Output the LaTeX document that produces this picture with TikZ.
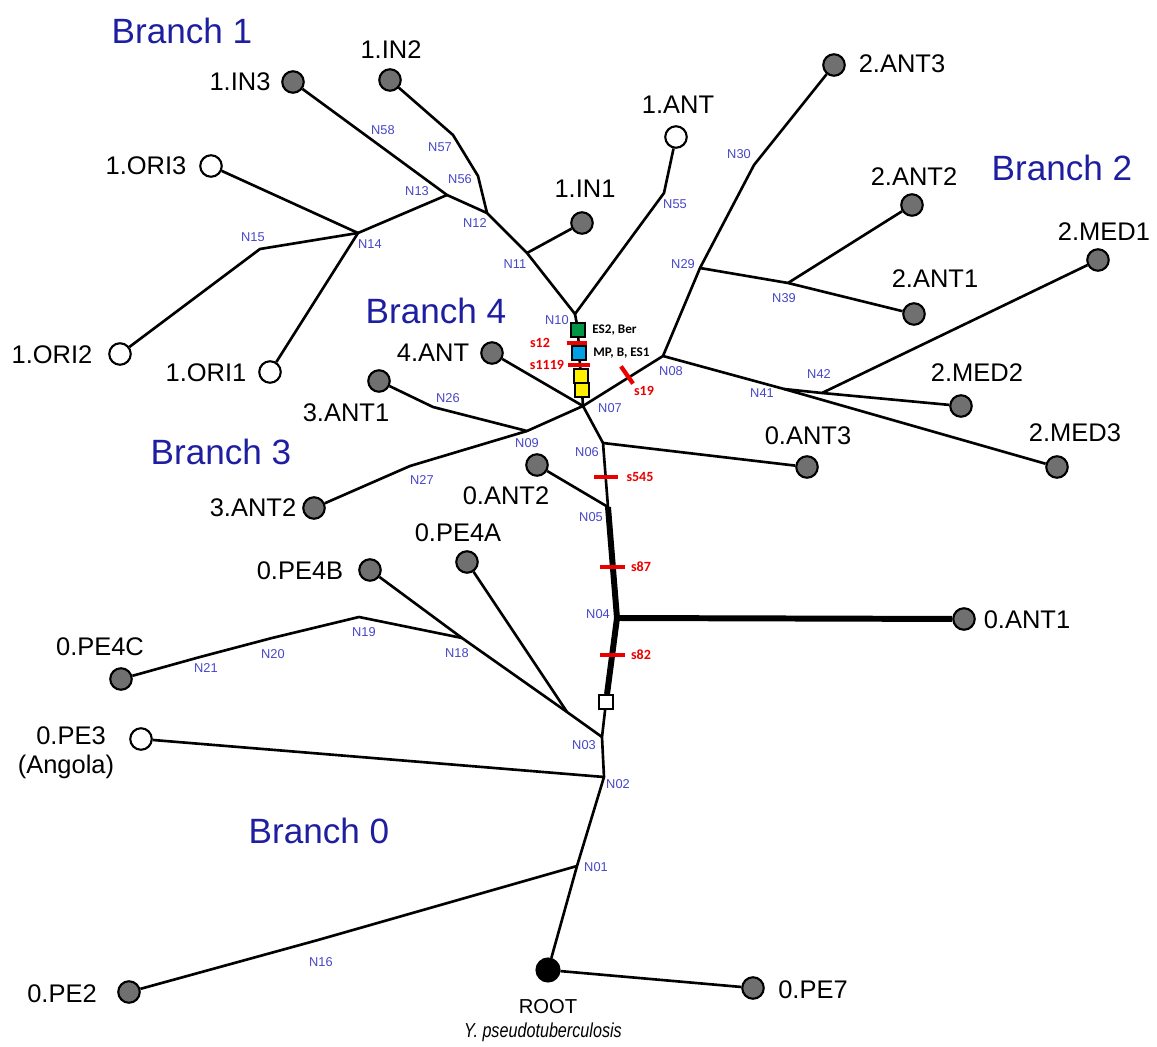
\documentclass[tikz,border=0pt]{standalone}
\usepackage{fontspec}
\setmainfont{Liberation Sans}
\newfontfamily\calib{Carlito}
\usetikzlibrary{backgrounds}
\definecolor{leafgray}{RGB}{112,112,112}
\definecolor{nblue}{RGB}{70,70,200}
\definecolor{bblue}{RGB}{30,30,160}
\definecolor{sred}{RGB}{235,0,0}
\definecolor{sqgreen}{RGB}{0,150,70}
\definecolor{sqblue}{RGB}{0,160,230}
\definecolor{sqyellow}{RGB}{255,240,0}
\tikzset{
  leaf/.style={circle, draw=black, line width=1.2pt, fill=leafgray, minimum size=0.43cm, inner sep=0pt},
  openleaf/.style={leaf, fill=white},
  rootnode/.style={leaf, fill=black, minimum size=0.46cm},
  lbl/.style={font=\fontsize{14.5}{17}\selectfont, inner sep=0pt},
  smalllbl/.style={font=\fontsize{11.5}{13}\selectfont, inner sep=0pt},
  nlbl/.style={font=\fontsize{7.3}{8}\selectfont, text=nblue, inner sep=0pt},
  brlbl/.style={font=\fontsize{20}{24}\selectfont, text=bblue, inner sep=0pt},
  slbl/.style={font=\calib\bfseries\fontsize{8}{9}\selectfont, text=sred, inner sep=0pt},
  klbl/.style={font=\calib\bfseries\fontsize{7.5}{9}\selectfont, text=black, inner sep=0pt},
  edge/.style={line width=1.5pt, line join=round},
  thickedge/.style={line width=3.4pt, line join=round},
  sq/.style={rectangle, draw=black, line width=1.4pt, minimum size=0.27cm, inner sep=0pt},
  redbar/.style={rectangle, fill=sred, minimum height=0.085cm, inner sep=0pt},
}
\begin{document}
\begin{tikzpicture}[x=0.02cm,y=-0.02cm]
\useasboundingbox (0,0) rectangle (1157,1047);
% internal junctions
\coordinate (N01) at (577,866);
\coordinate (N02) at (604,777);
\coordinate (N03) at (602,737);
\coordinate (J1)  at (567,712);
\coordinate (N04) at (617,618);
\coordinate (N05) at (608,507);
\coordinate (N06) at (603,443);
\coordinate (N07) at (583,406);
\coordinate (N08) at (663,356);
\coordinate (N09) at (527,431);
\coordinate (N10) at (575,314);
\coordinate (N11) at (527,253);
\coordinate (N12) at (487,213);
\coordinate (N13) at (447,195);
\coordinate (N14) at (358,233);
\coordinate (N15) at (260,249);
\coordinate (N16) at (318,940);
\coordinate (N18) at (462,638);
\coordinate (N19) at (359,617);
\coordinate (N20) at (272,638);
\coordinate (N21) at (200,657);
\coordinate (N26) at (433,407);
\coordinate (N27) at (410,466);
\coordinate (N29) at (700,268);
\coordinate (N30) at (754,165);
\coordinate (N39) at (788,283);
\coordinate (N41) at (784,389);
\coordinate (N42) at (822,393);
\coordinate (N55) at (664,193);
\coordinate (N56) at (478,176);
\coordinate (N57) at (453,135);
\coordinate (N58) at (383,148);
% leaves
\node[leaf] (IN3) at (293,82) {};
\node[leaf] (IN2) at (390,80) {};
\node[openleaf] (ORI3) at (211,166) {};
\node[openleaf] (ORI2) at (120,354) {};
\node[openleaf] (ORI1) at (270,372) {};
\node[leaf] (IN1) at (582,223) {};
\node[openleaf] (ANTone) at (676,137) {};
\node[leaf] (TANT3) at (834,65) {};
\node[leaf] (TANT2) at (912,205) {};
\node[leaf] (TANT1) at (914,314) {};
\node[leaf] (MED1) at (1098,260) {};
\node[leaf] (MED2) at (961,406) {};
\node[leaf] (MED3) at (1057,467) {};
\node[leaf] (ZANT3) at (807,467) {};
\node[leaf] (FANT) at (492,353) {};
\node[leaf] (HANT1) at (379,381) {};
\node[leaf] (HANT2) at (314,508) {};
\node[leaf] (ZANT2) at (537,465) {};
\node[leaf] (PE4A) at (467,562) {};
\node[leaf] (PE4B) at (370,570) {};
\node[leaf] (PE4C) at (121,679) {};
\node[openleaf] (PE3) at (141,739) {};
\node[leaf] (ZANT1) at (964,619) {};
\node[leaf] (PE2) at (129,992) {};
\node[leaf] (PE7) at (753,988) {};
\node[rootnode] (ROOT) at (548,970) {};
% squares
\node[sq, fill=sqgreen] (sqG) at (578,330) {};
\node[sq, fill=sqblue] (sqB) at (579,353) {};
\node[sq, fill=sqyellow] (sqY1) at (581,376) {};
\node[sq, fill=sqyellow] (sqY2) at (582,390) {};
\node[sq, fill=white] (sqW) at (606,702) {};
% red bars
\node[redbar, minimum width=0.4cm] (b12) at (577,343) {};
\node[redbar, minimum width=0.44cm] (b1119) at (579,365) {};
\node[redbar, minimum width=0.48cm] (b545) at (606,477) {};
\node[redbar, minimum width=0.5cm] (b87) at (612,567) {};
\node[redbar, minimum width=0.5cm] (b82) at (612,655) {};
\node[redbar, minimum width=0.42cm, rotate=-55] (b19) at (627,375) {};
% edges
\begin{pgfonlayer}{background}
\draw[edge] (IN3) -- (N58) -- (N13) -- (N12);
\draw[edge] (IN2) -- (N57) -- (N56) -- (N12);
\draw[edge] (ORI3) -- (N14);
\draw[edge] (ORI2) -- (N15) -- (N14);
\draw[edge] (ORI1) -- (N14);
\draw[edge] (N14) -- (N13);
\draw[edge] (N12) -- (N11) -- (N10);
\draw[edge] (N11) -- (IN1);
\draw[edge] (N10) -- (N55) -- (ANTone);
\draw[edge] (N10) -- (sqG) -- (sqB) -- (sqY1) -- (sqY2) -- (N07);
\draw[edge] (N07) -- (N08) -- (N29) -- (N30) -- (TANT3);
\draw[edge] (N29) -- (N39) -- (TANT1);
\draw[edge] (N39) -- (TANT2);
\draw[edge] (N08) -- (N41) -- (MED3);
\draw[edge] (N41) -- (N42) -- (MED2);
\draw[edge] (N42) -- (MED1);
\draw[edge] (N07) -- (FANT);
\draw[edge] (N07) -- (N09) -- (N26) -- (HANT1);
\draw[edge] (N09) -- (N27) -- (HANT2);
\draw[edge] (N07) -- (N06) -- (N05);
\draw[edge] (N06) -- (ZANT3);
\draw[edge] (ZANT2) -- (N05);
\draw[thickedge] (N05) -- (N04) -- (sqW);
\draw[thickedge] (N04) -- (ZANT1);
\draw[edge] (sqW) -- (N03) -- (N02) -- (N01) -- (ROOT) -- (PE7);
\draw[edge] (N03) -- (J1) -- (N18) -- (PE4B);
\draw[edge] (J1) -- (PE4A);
\draw[edge] (N18) -- (N19) -- (N20) -- (N21) -- (PE4C);
\draw[edge] (PE3) -- (N02);
\draw[edge] (PE2) -- (N16) -- (N01);
\end{pgfonlayer}
% leaf labels
\node[lbl] (tIN3) at (240,82) {1.IN3};
\node[lbl] (tIN2) at (391,50) {1.IN2};
\node[lbl] (tORI3) at (146,166) {1.ORI3};
\node[lbl] (tORI2) at (52,355) {1.ORI2};
\node[lbl] (tORI1) at (206,373) {1.ORI1};
\node[lbl] (tIN1) at (585,189) {1.IN1};
\node[lbl] (tANTone) at (678,105) {1.ANT};
\node[lbl] (tTANT3) at (902,64) {2.ANT3};
\node[lbl] (tTANT2) at (914,177) {2.ANT2};
\node[lbl] (tTANT1) at (935,279) {2.ANT1};
\node[lbl] (tMED1) at (1104,232) {2.MED1};
\node[lbl] (tMED2) at (977,373) {2.MED2};
\node[lbl] (tMED3) at (1075,433) {2.MED3};
\node[lbl] (tZANT3) at (808,436) {0.ANT3};
\node[lbl] (tFANT) at (433,353) {4.ANT};
\node[lbl] (tHANT1) at (346,413) {3.ANT1};
\node[lbl] (tHANT2) at (253,508) {3.ANT2};
\node[lbl] (tZANT2) at (506,496) {0.ANT2};
\node[lbl] (tPE4A) at (458,533) {0.PE4A};
\node[lbl] (tPE4B) at (300,571) {0.PE4B};
\node[lbl] (tPE4C) at (100,647) {0.PE4C};
\node[lbl] (tPE3) at (71,736) {0.PE3};
\node[lbl] (tAng) at (66,767) {(Angola)};
\node[lbl] (tZANT1) at (1027,620) {0.ANT1};
\node[lbl] (tPE2) at (62,994) {0.PE2};
\node[lbl] (tPE7) at (813,990) {0.PE7};
\node[smalllbl] (tROOT) at (548,1007) {ROOT};
\node[smalllbl, font=\fontsize{11.5}{13}\selectfont\itshape, xscale=0.8] (tYps) at (543,1032) {Y. pseudotuberculosis};
% branch labels
\node[brlbl] (br1) at (182,31) {Branch 1};
\node[brlbl] (br2) at (1062,168) {Branch 2};
\node[brlbl] (br3) at (221,452) {Branch 3};
\node[brlbl] (br4) at (436,311) {Branch 4};
\node[brlbl] (br0) at (319,831) {Branch 0};
% N labels
\node[nlbl] (lN58) at (383,130) {N58};
\node[nlbl] (lN57) at (440,147) {N57};
\node[nlbl] (lN56) at (460,179) {N56};
\node[nlbl] (lN13) at (417,191) {N13};
\node[nlbl] (lN12) at (475,223) {N12};
\node[nlbl] (lN11) at (515,264) {N11};
\node[nlbl] (lN14) at (370,244) {N14};
\node[nlbl] (lN15) at (253,237) {N15};
\node[nlbl] (lN10) at (557,320) {N10};
\node[nlbl] (lN55) at (675,204) {N55};
\node[nlbl] (lN30) at (739,154) {N30};
\node[nlbl] (lN29) at (683,264) {N29};
\node[nlbl] (lN39) at (784,298) {N39};
\node[nlbl] (lN08) at (671,371) {N08};
\node[nlbl] (lN41) at (762,393) {N41};
\node[nlbl] (lN42) at (819,374) {N42};
\node[nlbl] (lN07) at (610,408) {N07};
\node[nlbl] (lN09) at (527,443) {N09};
\node[nlbl] (lN06) at (587,452) {N06};
\node[nlbl] (lN26) at (448,398) {N26};
\node[nlbl] (lN27) at (422,480) {N27};
\node[nlbl] (lN05) at (591,517) {N05};
\node[nlbl] (lN04) at (598,614) {N04};
\node[nlbl] (lN03) at (584,745) {N03};
\node[nlbl] (lN02) at (618,784) {N02};
\node[nlbl] (lN01) at (596,867) {N01};
\node[nlbl] (lN16) at (321,962) {N16};
\node[nlbl] (lN18) at (457,653) {N18};
\node[nlbl] (lN19) at (364,632) {N19};
\node[nlbl] (lN20) at (273,654) {N20};
\node[nlbl] (lN21) at (206,668) {N21};
% SNP labels
\node[slbl] (ls12) at (540,343) {s12};
\node[slbl] (ls1119) at (547,365) {s1119};
\node[slbl] (ls545) at (640,477) {s545};
\node[slbl] (ls87) at (641,567) {s87};
\node[slbl] (ls82) at (641,655) {s82};
\node[slbl] (ls19) at (644,391) {s19};
\node[klbl, anchor=west] (lES2) at (592,330) {ES2, Ber};
\node[klbl, anchor=west] (lMP) at (593,353) {MP, B, ES1};
\end{tikzpicture}
\end{document}
